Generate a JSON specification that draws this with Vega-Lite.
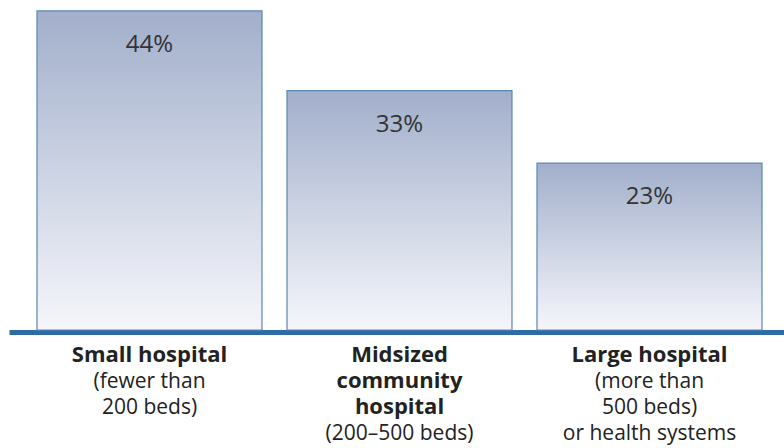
{
  "$schema": "https://vega.github.io/schema/vega-lite/v6.json",
  "width": 775,
  "height": 330,
  "autosize": "none",
  "padding": {"left": 9, "top": 0, "right": 0, "bottom": 118},
  "background": "white",
  "config": {"view": {"stroke": null}, "font": "Open Sans"},
  "data": {
    "values": [
      {"category": "Small hospital", "detail": "(fewer than\n200 beds)", "share": 0.44},
      {"category": "Midsized\ncommunity\nhospital", "detail": "(200–500 beds)", "share": 0.33},
      {"category": "Large hospital", "detail": "(more than\n500 beds)\nor health systems", "share": 0.23}
    ]
  },
  "encoding": {
    "x": {
      "field": "category",
      "type": "nominal",
      "sort": null,
      "scale": {"paddingInner": 0.1, "paddingOuter": 0.1, "align": 0.56},
      "axis": {
        "labels": false,
        "ticks": false,
        "title": null,
        "domainColor": "#2f6ba3",
        "domainWidth": 5,
        "offset": 2
      }
    }
  },
  "layer": [
    {
      "mark": {
        "type": "bar",
        "stroke": "#5a87b5",
        "strokeWidth": 1.2,
        "color": {
          "gradient": "linear",
          "x1": 0, "y1": 0, "x2": 0, "y2": 1,
          "stops": [
            {"offset": 0, "color": "#a2afcb"},
            {"offset": 1, "color": "#f5f6fb"}
          ]
        }
      },
      "encoding": {
        "y": {"field": "share", "type": "quantitative", "scale": {"domain": [0, 0.455], "nice": false}, "axis": null}
      }
    },
    {
      "mark": {"type": "text", "baseline": "alphabetic", "dy": 41, "fontSize": 24, "color": "#333333"},
      "encoding": {
        "y": {"field": "share", "type": "quantitative"},
        "text": {"field": "share", "type": "quantitative", "format": ".0%"}
      }
    },
    {
      "mark": {"type": "text", "baseline": "alphabetic", "dy": 32, "fontSize": 22, "fontWeight": "bold", "lineHeight": 26, "lineBreak": "\n", "color": "#222222"},
      "encoding": {
        "y": {"datum": 0, "type": "quantitative"},
        "text": {"field": "category", "type": "nominal"}
      }
    },
    {
      "transform": [{"filter": {"field": "category", "oneOf": ["Small hospital", "Large hospital"]}}],
      "mark": {"type": "text", "baseline": "alphabetic", "dy": 58, "fontSize": 21, "lineHeight": 26, "lineBreak": "\n", "color": "#222222"},
      "encoding": {
        "y": {"datum": 0, "type": "quantitative"},
        "text": {"field": "detail", "type": "nominal"}
      }
    },
    {
      "transform": [{"filter": {"field": "category", "equal": "Midsized\ncommunity\nhospital"}}],
      "mark": {"type": "text", "baseline": "alphabetic", "dy": 110, "fontSize": 21, "lineHeight": 26, "lineBreak": "\n", "color": "#222222"},
      "encoding": {
        "y": {"datum": 0, "type": "quantitative"},
        "text": {"field": "detail", "type": "nominal"}
      }
    }
  ]
}
